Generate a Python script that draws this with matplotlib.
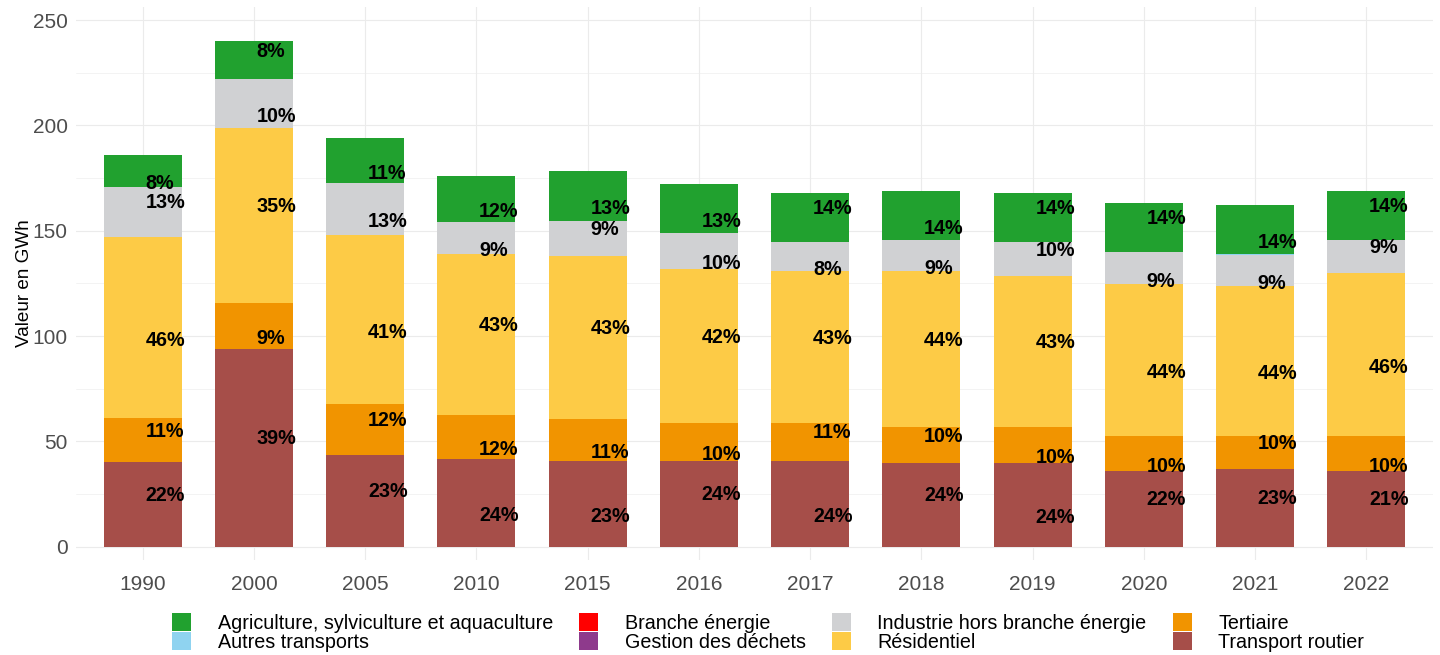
import numpy as np
import matplotlib
matplotlib.use("Agg")
import matplotlib.pyplot as plt
from matplotlib.ticker import MultipleLocator

plt.rcParams['font.family'] = ['Liberation Sans', 'DejaVu Sans']

years = ['1990', '2000', '2005', '2010', '2015', '2016', '2017', '2018', '2019', '2020', '2021', '2022']

agriculture = [15.2, 18.2, 21.3, 21.8, 23.9, 23.2, 23.2, 23.3, 23.2, 23.0, 23.2, 23.3]
autres_transports = [0, 0, 0, 0, 0, 0, 0, 0, 0, 0.3, 0.4, 0]
branche_energie = [0] * 12
gestion_dechets = [0] * 12
industrie = [24.0, 23.0, 24.7, 15.2, 16.6, 17.1, 13.8, 14.7, 16.3, 15.0, 14.8, 15.6]
residentiel = [86.0, 83.2, 80.2, 76.4, 77.3, 73.1, 72.1, 74.0, 71.6, 72.1, 71.1, 77.3]
tertiaire = [20.8, 21.8, 24.1, 20.9, 19.9, 18.0, 18.0, 17.1, 17.1, 16.6, 15.7, 16.6]
transport_routier = [40.2, 94.0, 43.8, 41.7, 40.8, 40.8, 40.8, 39.8, 39.8, 36.1, 37.0, 36.1]

sectors = ['Agriculture, sylviculture et aquaculture', 'Autres transports', 'Branche énergie',
           'Gestion des déchets', 'Industrie hors branche énergie', 'Résidentiel',
           'Tertiaire', 'Transport routier']
series = [agriculture, autres_transports, branche_energie, gestion_dechets,
          industrie, residentiel, tertiaire, transport_routier]
colors = ['#21A12F', '#8FD3F0', '#FF0000', '#8E3A8C', '#D0D1D3', '#FDCB46', '#F19400', '#A64E49']

# label vertical jitter direction (per year, per sector from bottom: routier, tertiaire, résidentiel, industrie, agriculture)
label_jitter = [
    [+1, +1, -1, +1, -1],
    [+1, -1, +1, -1, +1],
    [+1, +1, -1, -1, -1],
    [-1, -1, +1, -1, -1],
    [-1, -1, +1, +1, -1],
    [+1, -1, +1, -1, -1],
    [-1, +1, +1, -1, +1],
    [+1, +1, +1, -1, -1],
    [-1, -1, +1, +1, +1],
    [+1, -1, -1, -1, +1],
    [+1, +1, -1, -1, -1],
    [+1, -1, -1, +1, +1],
]
jitter_size = 5.2

fig = plt.figure(figsize=(14.4, 6.55), dpi=100)
ax = fig.add_axes([76 / 1440, 1 - 560 / 655, (1433 - 76) / 1440, (560 - 7) / 655])

x = np.arange(len(years))
width = 0.7
data = np.array(series, dtype=float)
totals = data.sum(axis=0)

stack_order = list(range(len(sectors)))[::-1]
bottom = np.zeros(len(years))
handles = {}
label_sectors = {7: 0, 6: 1, 5: 2, 4: 3, 0: 4}
for si in stack_order:
    vals = data[si]
    h = ax.bar(x, vals, width=width, bottom=bottom, color=colors[si], edgecolor='none',
               label=sectors[si], zorder=2)
    handles[si] = h
    for j in range(len(years)):
        v = vals[j]
        pct = int(round(100 * v / totals[j]))
        if pct >= 1 and si in label_sectors:
            dy = label_jitter[j][label_sectors[si]] * jitter_size
            ax.text(x[j] + 0.025, bottom[j] + v / 2 + dy, f"{pct}%", ha='left',
                    va='center_baseline', fontsize=14.2, fontweight='bold',
                    color='black', zorder=3)
    bottom = bottom + vals

ax.set_xlim(-0.6, len(years) - 0.4)
ax.set_ylim(-6.25, 256.25)
ax.set_xticks(x)
ax.set_xticklabels(years)
ax.yaxis.set_major_locator(MultipleLocator(50))
ax.yaxis.set_minor_locator(MultipleLocator(25))
ax.grid(which='major', axis='both', color='#EBEBEB', linewidth=0.8, zorder=0)
ax.grid(which='minor', axis='y', color='#EBEBEB', linewidth=0.4, zorder=0)
ax.set_axisbelow(True)
for sp in ax.spines.values():
    sp.set_visible(False)
ax.tick_params(axis='both', which='both', length=0, labelsize=15, labelcolor='#4D4D4D')
ax.tick_params(axis='y', pad=6)
ax.tick_params(axis='x', pad=11)
ax.set_ylabel('Valeur en GWh', fontsize=13.6, color='black', labelpad=0)

leg_handles = [handles[i] for i in range(len(sectors))]
leg = fig.legend(leg_handles, sectors, ncol=4, loc='upper left',
                 bbox_to_anchor=(172 / 1440, 1 - 613 / 655), frameon=False,
                 fontsize=14.2, handlelength=0.98, handleheight=1.04,
                 handletextpad=1.33, columnspacing=1.33, labelspacing=-0.04,
                 borderpad=0, borderaxespad=0)

fig.savefig('out.png', dpi=100)
